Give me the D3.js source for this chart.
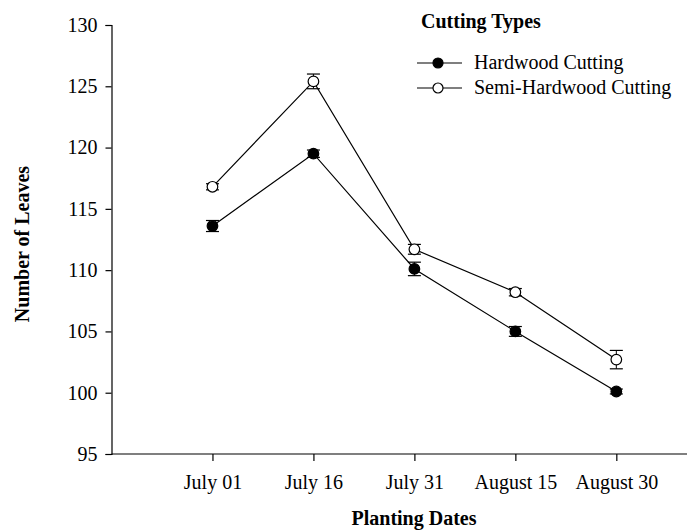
<!DOCTYPE html>
<html>
<head>
<meta charset="utf-8">
<script src="https://cdn.jsdelivr.net/npm/d3@7"></script>
<style>
  html, body { margin: 0; padding: 0; background: #fff; }
  svg { display: block; }
  text { font-family: "Liberation Serif", "Times New Roman", serif; fill: #000; }
</style>
</head>
<body>
<svg id="chart" width="687" height="531"></svg>
<script>
const categories = ["July 01", "July 16", "July 31", "August 15", "August 30"];
const hardwood = [113.6, 119.5, 110.1, 105.0, 100.1];
const hardwoodErr = [0.45, 0.3, 0.55, 0.4, 0.2];
const semiHardwood = [116.8, 125.4, 111.7, 108.2, 102.7];
const semiHardwoodErr = [0.25, 0.6, 0.4, 0.3, 0.75];
const yTicks = [95, 100, 105, 110, 115, 120, 125, 130];
const seriesNames = ["Hardwood Cutting", "Semi-Hardwood Cutting"];
const legendTitle = "Cutting Types";

const series = [
  { name: seriesNames[0], values: hardwood, err: hardwoodErr, fill: "#000" },
  { name: seriesNames[1], values: semiHardwood, err: semiHardwoodErr, fill: "#fff" }
];

const FS = "20px";
const svg = d3.select("#chart");
const x = d3.scaleLinear().domain([0, 5.7]).range([111.5, 687]);
const y = d3.scaleLinear().domain([95, 130]).range([454, 25]);

// axes
const yAxis = d3.axisLeft(y).tickValues(yTicks).tickSize(6).tickPadding(8).tickFormat(d3.format("d"));
const gy = svg.append("g").attr("transform", `translate(${x(0)},0)`).call(yAxis);
const xAxis = d3.axisBottom(x).tickValues(categories.map((c, i) => i + 1))
  .tickSize(7).tickPadding(14).tickFormat((d) => categories[d - 1]);
const gx = svg.append("g").attr("transform", `translate(0,${y(95)})`).call(xAxis);
[gx, gy].forEach(g => {
  g.select(".domain").attr("stroke", "#000").attr("stroke-width", 1.2);
  g.selectAll(".tick line").attr("stroke", "#000").attr("stroke-width", 1.2);
  g.selectAll(".tick text").style("font-family", '"Liberation Serif", serif').style("font-size", FS).attr("fill", "#000");
});
gx.select(".domain").attr("d", `M${x(0)},0H${x(5.7)}`);

// axis titles
svg.append("text").attr("x", 414).attr("y", 525).attr("text-anchor", "middle")
  .style("font-size", FS).style("font-weight", "bold").text("Planting Dates");
svg.append("text").attr("transform", "translate(29,244) rotate(-90)").attr("text-anchor", "middle")
  .style("font-size", FS).style("font-weight", "bold").text("Number of Leaves");

const line = d3.line().x((d, i) => x(i + 1)).y(d => y(d));
const r = 5.3, cap = 6.5;

series.forEach(s => {
  svg.append("path").datum(s.values).attr("d", line)
    .attr("fill", "none").attr("stroke", "#000").attr("stroke-width", 1.2);
});
series.forEach(s => {
  const g = svg.append("g");
  s.values.forEach((v, i) => {
    const cx = x(i + 1), e = s.err[i];
    g.append("line").attr("x1", cx).attr("x2", cx).attr("y1", y(v + e)).attr("y2", y(v - e)).attr("stroke", "#000");
    [v + e, v - e].forEach(t => g.append("line").attr("x1", cx - cap).attr("x2", cx + cap)
      .attr("y1", y(t)).attr("y2", y(t)).attr("stroke", "#000").attr("stroke-width", 1.2));
  });
  g.selectAll("circle").data(s.values).join("circle")
    .attr("cx", (d, i) => x(i + 1)).attr("cy", d => y(d)).attr("r", r)
    .attr("fill", s.fill).attr("stroke", "#000").attr("stroke-width", 1.2);
});

// legend
svg.append("text").attr("x", 421).attr("y", 28).style("font-size", FS).style("font-weight", "bold").text(legendTitle);
series.forEach((s, i) => {
  const ly = 63 + i * 25;
  svg.append("line").attr("x1", 417).attr("x2", 462).attr("y1", ly).attr("y2", ly).attr("stroke", "#000").attr("stroke-width", 1.2);
  svg.append("circle").attr("cx", 438).attr("cy", ly).attr("r", 5).attr("fill", s.fill).attr("stroke", "#000").attr("stroke-width", 1.2);
  svg.append("text").attr("x", 474).attr("y", ly + 6).style("font-size", FS).text(s.name);
});
</script>
</body>
</html>
